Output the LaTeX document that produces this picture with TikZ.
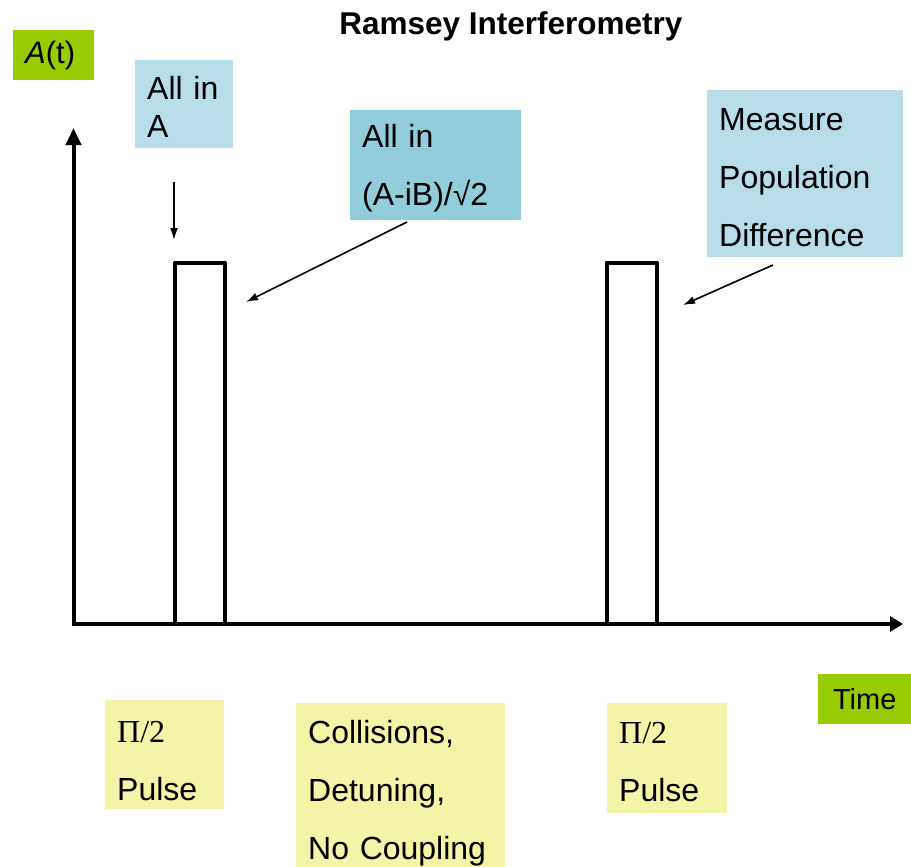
\documentclass[tikz,border=0pt]{standalone}
\usepackage{fontspec}
\setmainfont{Liberation Sans}
\newfontfamily\timesfont{Liberation Serif}
\usetikzlibrary{arrows.meta}

\definecolor{labelgreen}{RGB}{153,204,0}
\definecolor{paleblue}{RGB}{183,222,232}
\definecolor{tealblue}{RGB}{146,205,220}
\definecolor{paleyellow}{RGB}{244,244,168}

\newcommand\topstrut{\rule{0pt}{29pt}}

\begin{document}
\begin{tikzpicture}[x=1pt, y=-1pt,
  box/.style={anchor=north west, inner xsep=12pt, inner ysep=0pt, align=left, font=\fontsize{32}{58}\selectfont},
  axis/.style={line width=4pt, line join=miter, {Triangle[length=17pt,width=15pt]}-{Triangle[length=13pt,width=15pt]}},
  pulse/.style={line width=4pt, line join=round},
  pointer/.style={line width=1.6pt, -{Latex[length=12pt,width=8pt]}}]

\useasboundingbox (0,0) rectangle (911,867);

\node[font=\bfseries\fontsize{31.5}{36}\selectfont, anchor=base] (title) at (511,35) {Ramsey Interferometry};

% labels of the axes
\node[box, fill=labelgreen, text width=57pt, minimum height=50pt, font=\fontsize{31}{36}\selectfont] (amp) at (13,30) {\itshape A\upshape(t)};
\node[box, fill=labelgreen, text width=69pt, minimum height=50pt, align=center, font=\fontsize{29}{36}\selectfont] (time) at (818,674) {Time};

% states
\node[box, fill=paleblue, text width=74pt, minimum height=88pt, font=\fontsize{32}{38}\selectfont] (allA) at (135,60) {\topstrut All in\\A};
\node[box, fill=tealblue, text width=147pt, minimum height=110pt] (allAB) at (350,110) {\topstrut All in\\(A-iB)/√2};
\node[box, fill=paleblue, text width=172pt, minimum height=167pt] (measure) at (707,90) {\topstrut Measure\\Population\\Difference};

% stages
\node[box, fill=paleyellow, text width=95pt, minimum height=109pt] (pulseA) at (105,700) {\rule{0pt}{33pt}{\timesfont Π/2}\\Pulse};
\node[box, fill=paleyellow, text width=185pt, minimum height=172pt] (free) at (296,703) {\rule{0pt}{31pt}Collisions,\\Detuning,\\No Coupling};
\node[box, fill=paleyellow, text width=96pt, minimum height=110pt] (pulseB) at (607,703) {\topstrut{\timesfont Π/2}\\Pulse};

\coordinate (origin) at (73.5,624);
\coordinate (ytip) at (73.5,128);
\coordinate (xtip) at (903,624);
\draw[axis] (ytip) -- (origin) -- (xtip);

\draw[pulse] (175,624) -- (175,262.5) -- (224.5,262.5) -- (224.5,624);
\draw[pulse] (606.5,624) -- (606.5,262.5) -- (657,262.5) -- (657,624);

\coordinate (inA) at (174,182);
\coordinate (inAend) at (174,240);
\coordinate (inAB) at (407,222);
\coordinate (inABend) at (246,302);
\coordinate (meas) at (773,265);
\coordinate (measend) at (683,305);
\draw[pointer] (inA) -- (inAend);
\draw[pointer] (inAB) -- (inABend);
\draw[pointer] (meas) -- (measend);

\end{tikzpicture}
\end{document}
